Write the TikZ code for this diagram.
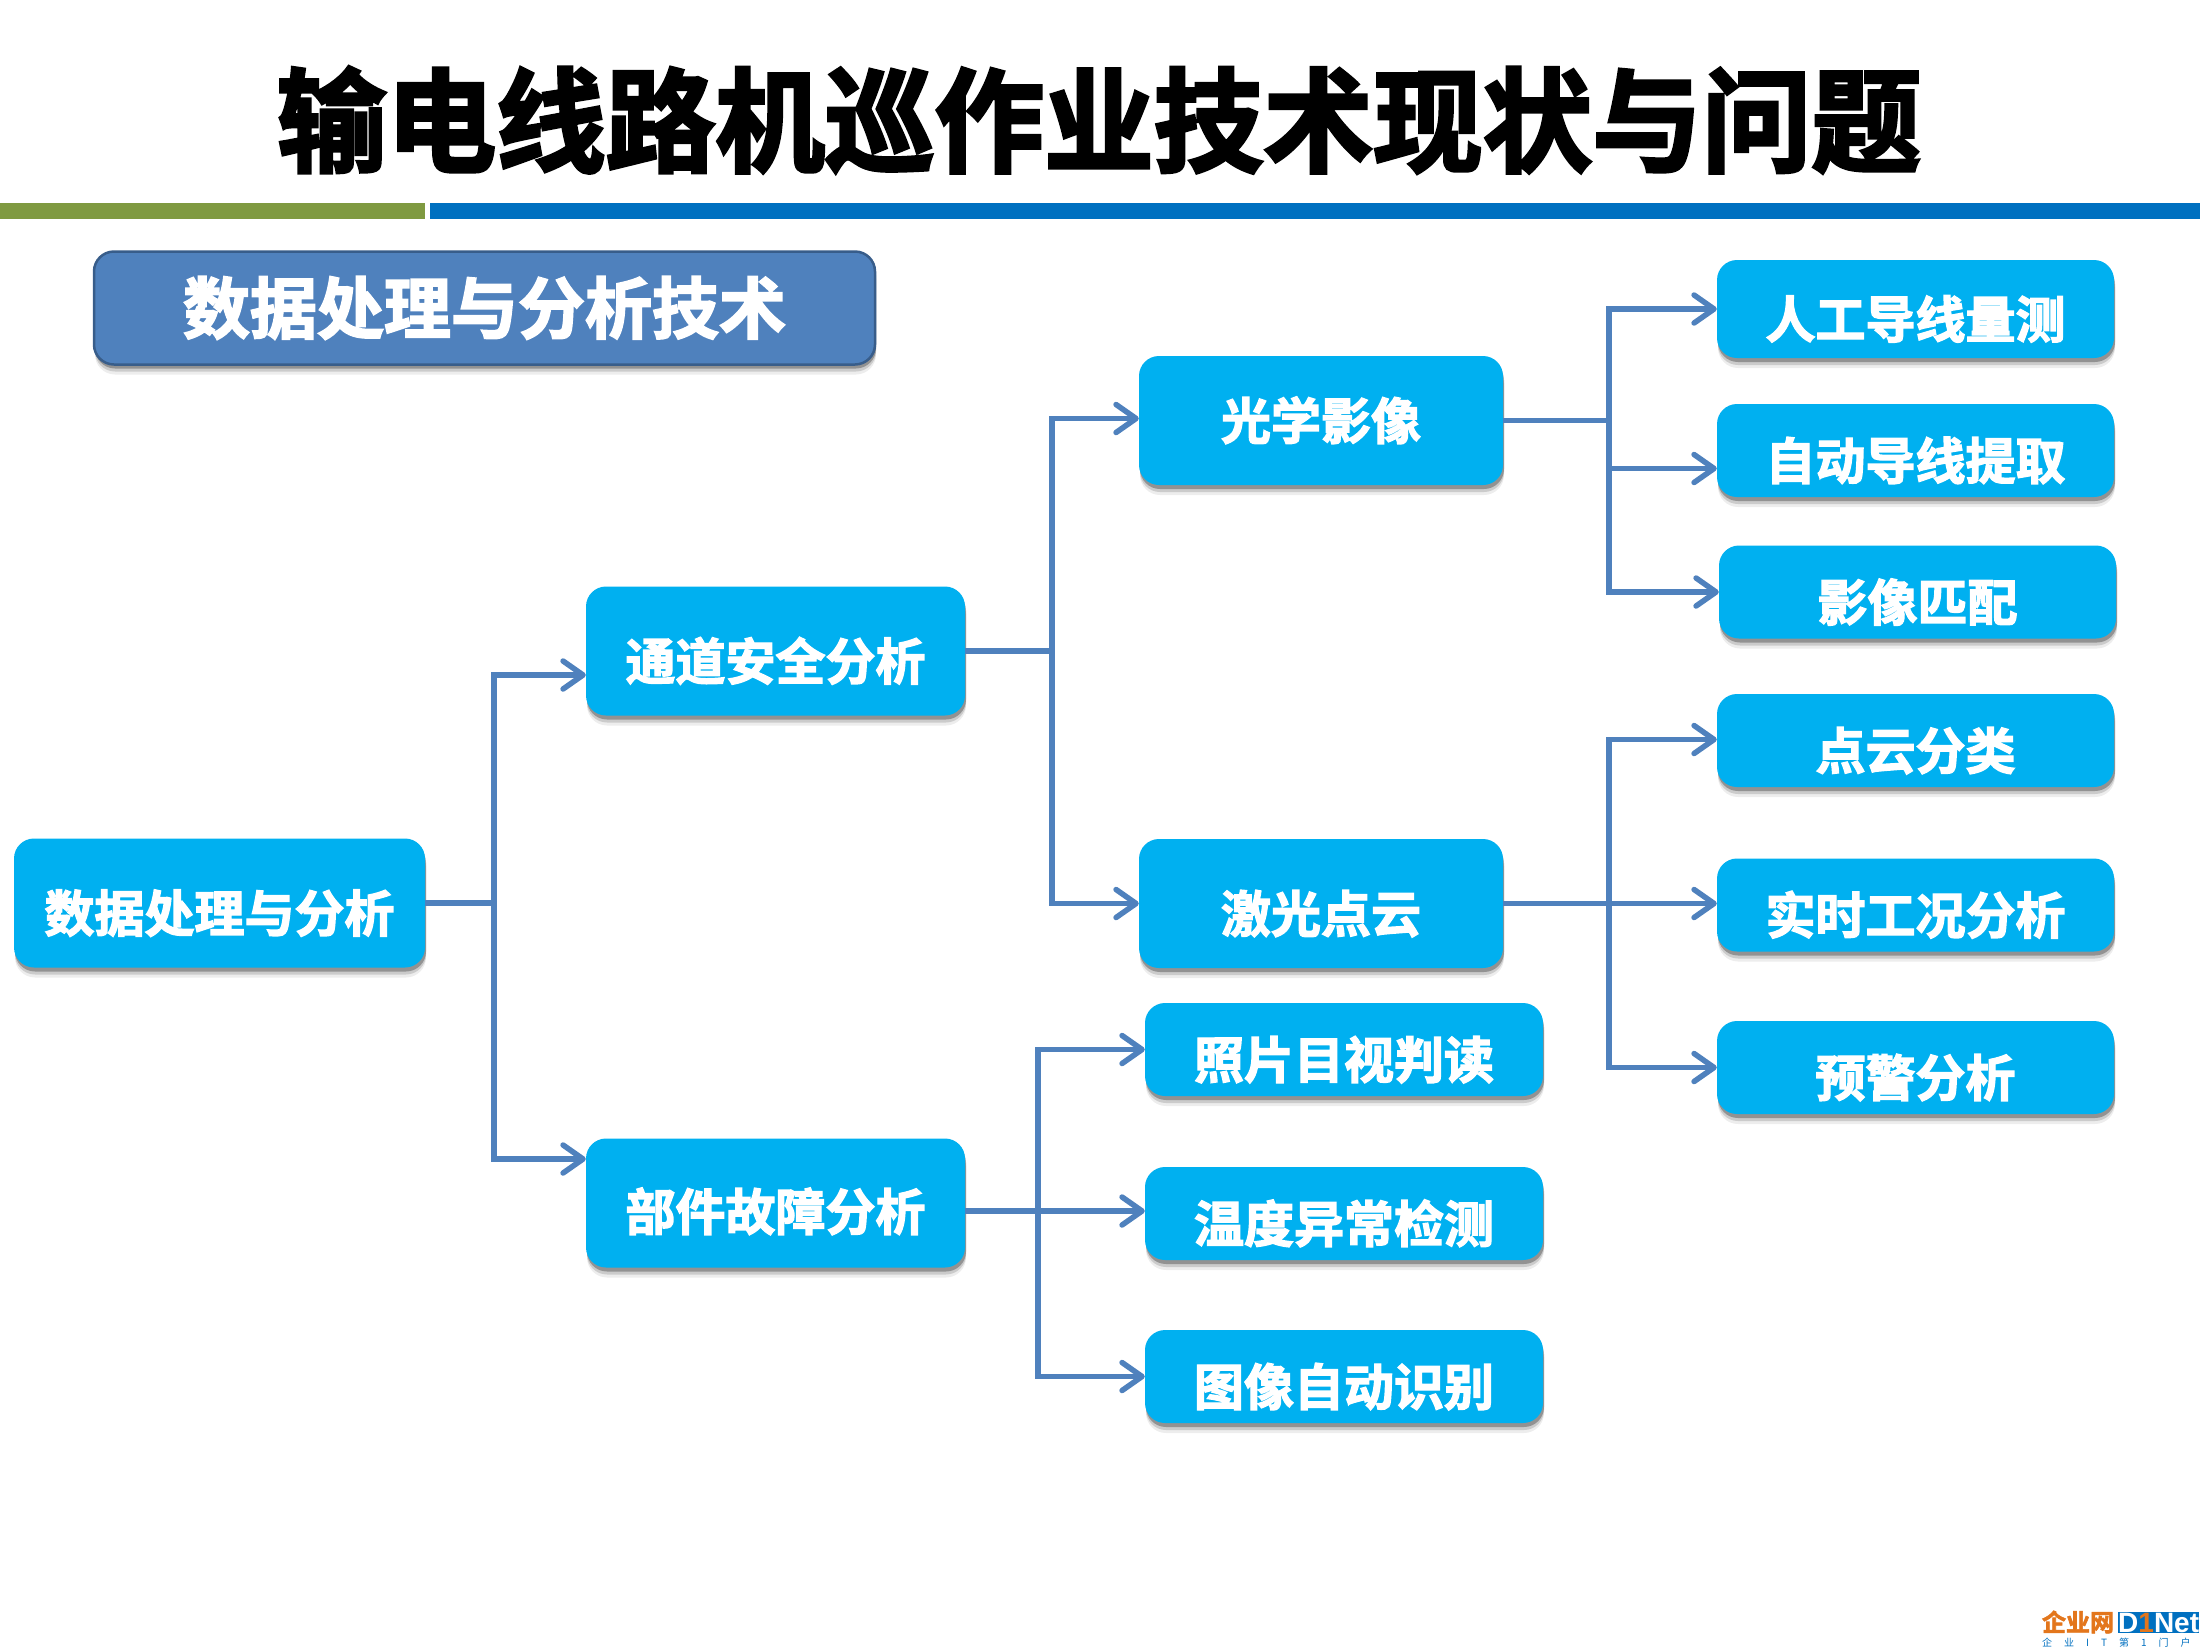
\documentclass[tikz,border=0pt]{standalone}
\usepackage{fontspec}
\usetikzlibrary{arrows.meta,shadows,calc}
\newfontfamily\cjk{Noto Sans CJK SC Bold}[FakeBold=2.6]
\newfontfamily\cjkT{Noto Sans CJK SC Bold}[FakeBold=2.8,FakeStretch=0.97]
\newfontfamily\cjkP{Noto Sans CJK SC}
\newfontfamily\latinL{Liberation Sans Bold}
\definecolor{boxcyan}{HTML}{00B0F0}
\definecolor{linkblue}{HTML}{4F81BD}
\definecolor{linkdark}{HTML}{385D8A}
\definecolor{barGreen}{HTML}{7F9A41}
\definecolor{barBlue}{HTML}{0070C0}
\definecolor{logoOrange}{HTML}{E3761C}
\tikzset{
 softshadow/.style={general shadow={fill=black,opacity=.07,shadow xshift=1pt,shadow yshift=-10pt},
   general shadow={fill=black,opacity=.14,shadow xshift=1pt,shadow yshift=-7pt},
   general shadow={fill=black,opacity=.28,shadow xshift=1pt,shadow yshift=-4pt}},
 box/.style={softshadow,fill=boxcyan,rounded corners=20pt,inner sep=0pt,text=white,
   font=\cjk\fontsize{50}{50}\selectfont,text height=58pt,text depth=0pt},
 big/.style={box,minimum width=#1,minimum height=129pt},
 small/.style={box,minimum width=#1,minimum height=93pt},
 link/.style={draw=linkblue,line width=5.5pt},
 arr/.style={link,-{Straight Barb[length=20pt,width=28pt,line width=5.5pt,round]}},
}
\begin{document}
\begin{tikzpicture}[x=1pt,y=-1pt]
\useasboundingbox (0,0) rectangle (2200,1650);
\fill[white] (0,0) rectangle (2200,1650);
\node[font=\cjkT\fontsize{113}{113}\selectfont,inner sep=0pt,text=black] (title) at (1099,120) {输电线路机巡作业技术现状与问题};
\node[fill=barGreen,minimum width=425pt,minimum height=16pt,inner sep=0pt] (gbar) at (212.5,211) {};
\node[fill=barBlue,minimum width=1770pt,minimum height=16pt,inner sep=0pt] (bbar) at (1315,211) {};
\node[softshadow,fill=linkblue,draw=linkdark,line width=2.5pt,rounded corners=20pt,minimum width=781pt,minimum height=113pt,inner sep=0pt,text=white,font=\cjk\fontsize{67}{67}\selectfont] (sub) at (484.5,308) {数据处理与分析技术};

\node[big=411pt] (root) at (219.5,903) {数据处理与分析};
\node[big=379pt] (tongdao) at (775.5,651) {通道安全分析};
\node[big=379pt,text height=55pt] (bujian) at (775.5,1203) {部件故障分析};
\node[big=364pt,text height=38pt] (guangxue) at (1321,420.5) {光学影像};
\node[big=364pt] (jiguang) at (1321,903.5) {激光点云};
\node[small=398pt] (zhaopian) at (1344,1049.5) {照片目视判读};
\node[small=398pt] (wendu) at (1344,1213.5) {温度异常检测};
\node[small=398pt] (tuxiang) at (1344,1376.5) {图像自动识别};
\node[small=397pt,minimum height=98pt] (rengong) at (1915.5,309) {人工导线量测};
\node[small=397pt] (zidong) at (1915.5,450.5) {自动导线提取};
\node[small=397pt] (yingxiang) at (1917.5,592) {影像匹配};
\node[small=397pt] (dianyun) at (1915.5,740.5) {点云分类};
\node[small=397pt] (shishi) at (1915.5,905) {实时工况分析};
\node[small=397pt] (yujing) at (1915.5,1067.5) {预警分析};

\coordinate (j1) at (494,903);
\draw[link] (root.east) -- (j1);
\draw[arr] (j1) |- ([yshift=-24pt]tongdao.west);
\draw[arr] (j1) |- ([yshift=44pt]bujian.west);

\coordinate (j2) at (1052,651);
\draw[link] (tongdao.east) -- (j2);
\draw[arr] (j2) |- ([yshift=2pt]guangxue.west);
\draw[arr] (j2) |- (jiguang.west);

\coordinate (j3) at (1609,420.5);
\draw[link] (guangxue.east) -- (j3);
\draw[arr] (j3) |- (rengong.west);
\draw[arr] (j3) |- ([yshift=-18pt]zidong.west);
\draw[arr] (j3) |- (yingxiang.west);

\coordinate (j4) at (1609,903.5);
\draw[arr] (jiguang.east) -- (jiguang.east -| shishi.west);
\draw[arr] (j4) |- ([yshift=1pt]dianyun.west);
\draw[arr] (j4) |- (yujing.west);

\coordinate (j5) at (1038,1211);
\draw[arr] ([yshift=-8pt]bujian.east) -- ([yshift=-8pt]bujian.east -| wendu.west);
\draw[arr] (j5) |- (zhaopian.west);
\draw[arr] (j5) |- (tuxiang.west);

% logo
\node[inner sep=0pt,text=logoOrange,font=\cjk\fontsize{24}{24}\selectfont] (logoa) at (2078,1622) {企业网};
\node[fill=barBlue,minimum height=21pt,inner sep=0pt,text=white,font=\latinL\fontsize{28}{24}\selectfont,anchor=west] (logob) at (2118,1622.5) {D\textcolor{logoOrange}{1}Net};
\node[inner sep=0pt,text=barBlue,font=\cjkP\fontsize{10}{10}\selectfont,anchor=west] (logoc) at (2042,1643) {企\hspace{12pt}业\hspace{12pt}I\hspace{12pt}T\hspace{12pt}第\hspace{12pt}1\hspace{12pt}门\hspace{12pt}户};
\end{tikzpicture}
\end{document}
